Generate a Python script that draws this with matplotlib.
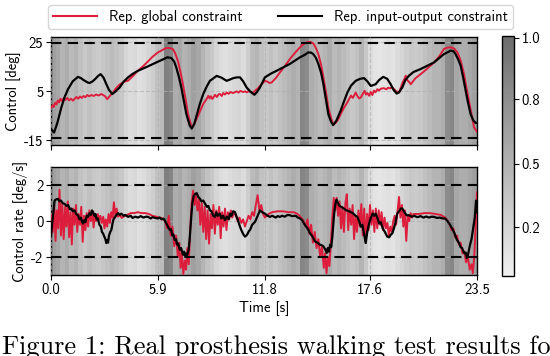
import numpy as np
import matplotlib
matplotlib.use("Agg")
import matplotlib.pyplot as plt
from matplotlib.colors import LinearSegmentedColormap
from matplotlib.lines import Line2D

plt.rcParams['font.family'] = ['cmss10', 'DejaVu Sans']
plt.rcParams['axes.unicode_minus'] = False
plt.rcParams['font.size'] = 10.5

T_END = 23.5

# background shading (0..1), one value every 0.25 s
shade = [0.60, 0.55, 0.45, 0.50, 0.40, 0.45, 0.35, 0.30, 0.35, 0.30, 0.28, 0.32,
         0.35, 0.40, 0.35, 0.30, 0.20, 0.15, 0.18, 0.12, 0.15, 0.20, 0.25, 0.35,
         0.40, 0.85, 0.80, 0.50, 0.55, 0.45, 0.50, 0.60, 0.55, 0.45, 0.35, 0.30,
         0.20, 0.15, 0.12, 0.15, 0.18, 0.20, 0.15, 0.25, 0.40, 0.45, 0.35, 0.30,
         0.35, 0.30, 0.35, 0.40, 0.45, 0.50, 0.45, 0.80, 0.75, 0.50, 0.45, 0.40,
         0.45, 0.50, 0.40, 0.45, 0.40, 0.35, 0.30, 0.35, 0.45, 0.30, 0.15, 0.10,
         0.08, 0.10, 0.12, 0.10, 0.15, 0.20, 0.25, 0.30, 0.28, 0.30, 0.35, 0.40,
         0.45, 0.45, 0.50, 0.75, 0.80, 0.55, 0.50, 0.50, 0.55, 0.60]

# control [deg]
black_top_t = [0, 0.17, 0.35, 0.57, 0.75, 0.94, 1.2, 1.49, 1.65, 1.8, 2.0, 2.13, 2.3,
               2.45, 2.6, 2.74, 2.9, 3.05, 3.2, 3.38, 3.55, 3.79, 4.0, 4.25, 4.5,
               4.8, 5.35, 5.9, 6.2, 6.42, 6.64, 6.8, 6.91, 7.05, 7.19, 7.33, 7.47,
               7.65, 7.76, 7.9, 8.03, 8.2, 8.40, 8.6, 8.77, 9.14, 9.4, 9.69, 9.9,
               10.06, 10.25, 10.43, 10.6, 10.79, 11.0, 11.22, 11.35, 11.53, 11.80,
               12.1, 12.45, 13.18, 13.74, 14.0, 14.2, 14.35, 14.47, 14.62, 14.75,
               14.9, 15.03, 15.17, 15.3, 15.45, 15.57, 15.75, 15.98, 16.15, 16.35,
               16.55, 16.81, 17.05, 17.27, 17.45, 17.64, 17.91, 18.1, 18.33, 18.55,
               18.74, 18.9, 19.07, 19.2, 19.38, 19.55, 19.75, 20.0, 20.39, 21.13,
               21.68, 22.05, 22.2, 22.32, 22.46, 22.6, 22.74, 22.88, 23.0, 23.15,
               23.3, 23.43, 23.5]
black_top_v = [-10.5, -11.9, -8.0, -1.7, 2.5, 5.8, 9.0, 10.8, 10.3, 9.5, 8.6, 8.3, 9.0,
               10.0, 11.2, 11.9, 10.5, 7.9, 5.5, 3.8, 4.8, 6.5, 8.8, 10.6, 12.0,
               13.3, 15.1, 17.0, 18.0, 18.8, 18.5, 17.0, 14.7, 11.0, 6.5, 1.0, -4.4,
               -9.0, -10.3, -8.5, -5.1, -0.5, 3.8, 7.0, 9.2, 11.2, 10.5, 9.2, 9.8,
               10.3, 10.6, 10.6, 9.0, 6.5, 4.8, 3.5, 4.5, 6.5, 10.6,
               12.0, 13.3, 16.1, 18.8, 19.8, 20.8, 20.7, 20.1, 18.5, 16.1,
               12.5, 7.8, 1.5, -4.4, -7.5, -8.9, -7.0, -3.0, 0.5, 4.4,
               7.2, 9.2, 10.0, 10.3, 9.0, 7.1, 7.8, 9.5, 10.8, 10.0,
               7.8, 5.5, 4.0, 4.5, 6.5, 9.5, 11.3, 12.8, 14.0, 16.7,
               20.1, 21.5, 21.3, 20.1, 18.0, 15.4, 10.5, 5.1, 0.5, -4.4,
               -7.0, -8.0, -8.0]

red_top_t = [0, 0.08, 0.15, 0.22, 0.3, 0.38, 0.45, 0.52, 0.6, 0.7, 0.8, 0.9, 1.0,
             1.1, 1.21, 1.3, 1.4, 1.5, 1.6, 1.7, 1.8, 1.9, 2.0, 2.1, 2.23, 2.35,
             2.5, 2.62, 2.78, 2.9, 3.0, 3.1, 3.2, 3.3, 3.42, 3.55, 3.7, 3.85, 4.0,
             4.1, 4.25, 4.5, 4.8, 5.1, 5.35, 5.6, 5.9, 6.15, 6.36, 6.55, 6.73, 6.85,
             7.0, 7.14, 7.28, 7.42, 7.56, 7.74, 7.8, 7.9, 8.03, 8.2, 8.40, 8.5, 8.6,
             8.68, 8.75, 8.82, 8.9, 8.96, 9.05, 9.15, 9.25, 9.32, 9.42, 9.5, 9.6,
             9.69, 9.8, 9.9, 10.05, 10.24, 10.35, 10.45, 10.6, 10.7, 10.8, 10.9, 11.0,
             11.16, 11.3, 11.4, 11.53, 11.65, 11.8, 11.95, 12.05, 12.17, 12.4, 12.63,
             12.9, 13.18, 13.45, 13.74, 13.9, 14.1, 14.3, 14.47, 14.6, 14.75, 14.9,
             15.03, 15.17, 15.3, 15.45, 15.58, 15.7, 15.85, 15.98, 16.15, 16.35,
             16.45, 16.55, 16.65, 16.81, 16.9, 17.0, 17.09, 17.2, 17.3, 17.38, 17.46,
             17.55, 17.64, 17.73, 17.82, 17.9, 18.01, 18.1, 18.2, 18.37, 18.5, 18.6,
             18.7, 18.83, 18.95, 19.05, 19.2, 19.3, 19.4, 19.5, 19.57, 19.65, 19.75,
             19.85, 19.93, 20.1, 20.39, 20.7, 21.13, 21.4, 21.68, 21.85, 22.05, 22.25,
             22.42, 22.6, 22.79, 22.93, 23.06, 23.2, 23.34, 23.5]
red_top_v = [-1.8, -0.8, -1.5, 0.2, -0.5, 1.2, 0.4, 1.9, 1.0, 2.1, 1.4, 2.2, 1.2,
             1.9, 1.1, 1.8, 2.6, 1.9, 2.8, 2.2, 3.0, 2.5, 3.4, 2.9, 3.4, 3.0,
             3.6, 3.2, 3.8, 3.3, 2.8, 1.7, 2.6, 3.5, 4.4, 5.8, 7.1, 8.0, 8.6,
             9.0, 9.2, 11.0, 13.3, 15.3, 17.1, 19.0, 20.8, 21.8, 22.6, 22.6, 22.1, 20.5,
             17.3, 13.0, 7.8, 2.0, -4.4, -9.1, -9.6, -8.5, -6.4, -3.5, -0.2, 0.8, 2.0,
             3.1, 2.0, 2.9, 1.8, 2.4, 3.5, 2.6, 3.7, 3.8, 3.0, 4.2, 3.6,
             4.4, 3.9, 4.6, 4.2, 4.9, 4.4, 5.1, 4.6, 4.9, 4.5, 5.0, 4.6,
             4.4, 5.5, 6.0, 7.1, 8.0, 9.2, 8.8, 8.3, 8.5, 10.3, 12.6,
             15.2, 18.1, 20.5, 22.9, 24.0, 24.9, 25.1, 24.5, 22.8, 20.1, 15.8,
             10.6, 4.5, -1.7, -6.0, -8.5, -8.0, -6.5, -4.4, -2.0, 0.4,
             1.8, 3.2, 2.2, 4.4, 3.0, 2.0, 2.4, 3.8, 5.1, 3.6, 4.2,
             3.1, 4.6, 3.4, 5.2, 4.5, 5.8, 5.2, 6.0, 6.2, 5.7, 6.4,
             6.1, 6.5, 5.6, 4.9, 4.4, 6.5, 8.5, 10.0, 11.3, 9.5, 8.8,
             7.8, 8.6, 10.2, 11.9, 13.8, 16.7, 19.0, 22.2, 22.7, 22.9, 22.3,
             20.8, 17.5, 11.9, 6.0, 1.1, -4.5, -9.8, -11.6]

# control rate [deg/s]
black_bot_t = [0, 0.1, 0.2, 0.3, 0.39, 0.47, 0.55, 0.65, 0.75, 0.85, 0.95, 1.05, 1.12,
               1.2, 1.3, 1.4, 1.49, 1.57, 1.65, 1.72, 1.77, 1.84, 1.9, 1.97, 2.04,
               2.12, 2.2, 2.26, 2.32, 2.4, 2.45, 2.52, 2.59, 2.67, 2.75, 2.81, 2.87,
               2.94, 3.0, 3.05, 3.1, 3.15, 3.2, 3.27, 3.33, 3.4, 3.45, 3.52, 3.6,
               3.7, 3.8, 3.88, 4.0, 4.1, 4.25, 4.4, 4.5, 4.65, 4.8, 4.95, 5.1, 5.25,
               5.35, 5.5, 5.6, 5.75, 5.9, 6.0, 6.1, 6.2, 6.27, 6.35, 6.4, 6.48, 6.55,
               6.62, 6.7, 6.76, 6.82, 6.9, 6.95, 7.02, 7.1, 7.18, 7.28, 7.34, 7.39,
               7.45, 7.5, 7.56, 7.6, 7.65, 7.7, 7.75, 7.8, 7.87, 7.95, 8.04, 8.12,
               8.22, 8.3, 8.4, 8.5, 8.6, 8.68, 8.77, 8.85, 8.95, 9.05, 9.12, 9.2,
               9.32, 9.4, 9.5, 9.6, 9.7, 9.8, 9.88, 9.95, 10.05, 10.15, 10.22, 10.3,
               10.36, 10.43, 10.5, 10.55, 10.62, 10.7, 10.78, 10.85, 10.92, 10.98,
               11.1, 11.26, 11.4, 11.53, 11.65, 11.8, 11.95, 12.08, 12.2, 12.4, 12.5,
               12.63, 12.75, 12.9, 13.05, 13.18, 13.3, 13.5, 13.62, 13.74, 13.85,
               14.01, 14.15, 14.29, 14.42, 14.57, 14.7, 14.84, 14.95, 15.03, 15.12,
               15.21, 15.27, 15.33, 15.4, 15.46, 15.52, 15.57, 15.62, 15.68, 15.75,
               15.82, 15.89, 16.0, 16.16, 16.3, 16.45, 16.53, 16.65, 16.8, 16.9,
               17.0, 17.1, 17.18, 17.27, 17.36, 17.45, 17.55, 17.65, 17.75, 17.83,
               17.91, 18.0, 18.1, 18.19, 18.3, 18.42, 18.55, 18.65, 18.75, 18.83,
               18.92, 19.0, 19.1, 19.2, 19.3, 19.38, 19.5, 19.62, 19.75, 19.9, 20.05,
               20.2, 20.39, 20.55, 20.7, 20.85, 21.0, 21.13, 21.3, 21.45, 21.6,
               21.74, 21.88, 22.02, 22.15, 22.27, 22.39, 22.5, 22.6, 22.68, 22.75,
               22.82, 22.88, 22.94, 23.0, 23.06, 23.12, 23.2, 23.3, 23.38, 23.45, 23.5]
black_bot_v = [-0.85, 0.2, 1.15, 1.22, 1.24, 1.1, 1.15, 1.0, 0.97, 0.85, 0.9, 0.65, 0.7,
               0.55, 0.6, 0.38, 0.33, 0.1, 0.2, -0.05, -0.13, 0.05, -0.05, 0.3, 0.24,
               0.45, 0.35, 0.6, 0.51, 0.3, 0.4, 0.1, 0.15, -0.2, -0.3, -0.6, -0.68,
               -0.85, -1.0, -1.22, -1.05, -1.2, -0.8, -0.6, -0.49, -0.1, 0.1, 0.2, 0.33,
               0.45, 0.35, 0.42, 0.3, 0.35, 0.24, 0.3, 0.18, 0.25, 0.2, 0.28, 0.2, 0.25,
               0.24, 0.15, 0.22, 0.18, 0.15, 0.2, 0.1, 0.14, 0.06, -0.1, -0.2, -0.35, -0.49,
               -0.45, -0.8, -0.75, -1.04, -1.0, -1.3, -1.25, -1.59, -1.5, -1.87, -1.7, -1.92,
               -1.8, -1.9, -1.75, -1.55, -1.0, -0.3, 0.4, 1.0, 1.4, 1.52, 1.56, 1.35,
               1.25, 1.1, 1.15, 0.97, 0.8, 0.85, 0.6, 0.55, 0.3, 0.24, 0.5, 0.3,
               0.42, 0.15, 0.3, 0.06, 0.25, 0.1, 0.42, 0.3, 0.55, 0.51, 0.3, 0.1,
               -0.1, -0.31, -0.5, -0.6, -0.75, -0.86, -0.8, -0.7, -0.55, -0.49,
               -0.2, -0.03, 0.3, 0.6, 0.5, 0.42, 0.3, 0.24, 0.3, 0.2, 0.28,
               0.24, 0.3, 0.25, 0.35, 0.33, 0.28, 0.3, 0.2, 0.15, 0.05,
               -0.21, -0.4, -0.68, -0.85, -1.13, -1.2, -1.31, -1.35, -1.41, -1.55,
               -1.77, -1.5, -1.7, -1.31, -1.45, -0.9, -0.2, 0.42, 0.9, 1.2,
               1.05, 0.88, 0.8, 0.7, 0.6, 0.55, 0.51, 0.45, 0.3, 0.24,
               0.0, -0.31, -0.2, -0.7, -1.22, -0.6, -0.13, 0.2, 0.42, 0.3,
               0.42, 0.2, -0.13, -0.05, -0.4, -0.6, -0.86, -0.9, -0.75, -0.68,
               -0.4, -0.1, 0.42, 0.55, 0.7, 0.7, 0.5, 0.33, 0.33, 0.25, 0.3,
               0.22, 0.28, 0.2, 0.26, 0.2, 0.25, 0.24, 0.18, 0.2, 0.15,
               0.15, 0.0, -0.21, -0.45, -0.7, -1.04, -1.2, -1.45, -1.5, -1.68,
               -1.8, -1.75, -2.05, -1.9, -1.6, -1.31, -1.0, -0.31, 0.2, 1.15, 0.5]

red_bot_t = [0.0, 0.1, 0.18, 0.25, 0.32, 0.4, 0.47, 0.55, 0.62, 0.7, 0.78, 0.85, 0.93,
             1.0, 1.08, 1.15, 1.22, 1.3, 1.38, 1.45, 1.52, 1.6, 1.67, 1.75, 1.82, 1.9,
             1.97, 2.05, 2.12, 2.2, 2.28, 2.35, 2.42, 2.5, 2.58, 2.65, 2.72, 2.8, 2.88,
             2.95, 3.02, 3.1, 3.18, 3.25, 3.32, 3.4, 3.47, 3.55, 3.62, 3.7, 3.8, 3.9,
             4.0, 4.2, 4.4, 4.6, 4.8, 5.0, 5.2, 5.4, 5.6, 5.8, 6.0, 6.15, 6.3, 6.4,
             6.5, 6.6, 6.7, 6.8, 6.9, 7.0, 7.08, 7.15, 7.22, 7.3, 7.38, 7.45, 7.52,
             7.6, 7.68, 7.76, 7.84, 7.92, 8.0, 8.08, 8.16, 8.24, 8.32, 8.4, 8.48, 8.56,
             8.64, 8.72, 8.8, 8.88, 8.96, 9.04, 9.12, 9.2, 9.28, 9.36, 9.44, 9.52, 9.6,
             9.68, 9.76, 9.84, 9.92, 10.0, 10.1, 10.2, 10.3, 10.4, 10.5, 10.6, 10.7,
             10.8, 10.9, 11.0, 11.1, 11.2, 11.3, 11.4, 11.5, 11.6, 11.7, 11.8, 11.9,
             12.0, 12.2, 12.5, 12.8, 13.1, 13.4, 13.6, 13.8, 13.95, 14.05, 14.15,
             14.25, 14.35, 14.45, 14.55, 14.65, 14.75, 14.85, 14.95, 15.05, 15.12,
             15.2, 15.28, 15.36, 15.44, 15.52, 15.6, 15.68, 15.76, 15.84, 15.92, 16.0,
             16.08, 16.16, 16.24, 16.32, 16.4, 16.48, 16.56, 16.64, 16.72, 16.8, 16.88,
             16.96, 17.04, 17.12, 17.2, 17.28, 17.36, 17.44, 17.52, 17.6, 17.68, 17.76,
             17.84, 17.92, 18.0, 18.08, 18.16, 18.24, 18.32, 18.4, 18.48, 18.56, 18.64,
             18.72, 18.8, 18.88, 18.96, 19.04, 19.12, 19.2, 19.28, 19.36, 19.44, 19.52,
             19.6, 19.68, 19.76, 19.84, 19.92, 20.0, 20.3, 20.6, 20.9, 21.2, 21.5,
             21.75, 21.9, 22.0, 22.1, 22.2, 22.3, 22.4, 22.5, 22.6, 22.7, 22.8, 22.9,
             23.0, 23.1, 23.2, 23.27, 23.35, 23.42, 23.5]
red_bot_v = [0.35, -0.6, 0.9, -1.1, 0.6, -0.4, 1.75, -0.8, 1.0, -1.0, 0.8, -0.3, 1.1,
             -0.9, 0.5, -1.3, 0.7, -0.2, 0.9, -0.6, 0.4, -0.2, 0.8, -1.15, 0.3, -0.5,
             0.45, -0.3, 0.6, 0.0, 0.55, -0.35, 0.3, 0.0, 0.4, 0.1, 0.3, -0.1, 0.25,
             -0.4, 0.1, -0.3, 0.4, -0.1, 0.5, 0.2, 1.05, 0.3, 0.7, 0.25, 0.35, 0.18,
             0.25, 0.35, 0.45, 0.45, 0.5, 0.45, 0.45, 0.4, 0.3, 0.25, 0.2, 0.15, 0.0, -0.4,
             0.3, -0.8, -0.3, -1.4, -0.8, -2.0, -1.2, -2.6, -1.8, -2.95, -2.2, -2.7, -1.5,
             -2.4, -0.5, 1.0, 1.7, 0.9, 1.4, 0.6, 1.2, -0.2, 1.0, -0.6, 0.8, -1.0,
             0.6, -1.25, 0.4, -0.4, 0.9, -0.7, 0.6, -0.2, 0.8, -0.95, 0.5, -0.3, 0.7,
             -0.5, 0.5, 0.1, 0.6, 0.2, 0.5, 0.3, 0.0, 0.2, -0.1, 0.1, -0.3,
             0.0, 0.3, 0.1, 0.5, 0.3, 0.9, 1.45, 0.6, 0.9, 0.4, 0.2, 0.3,
             0.4, 0.5, 0.55, 0.55, 0.5, 0.5, 0.4, 0.2, 0.0, -0.3, 0.1,
             -0.7, -0.2, -1.2, -0.6, -1.5, -1.0, -2.0, -1.4, -2.6, -1.8,
             -2.9, -2.0, -2.5, -1.2, 0.2, 1.3, 0.6, 1.3, 0.3, 1.1, -0.4,
             0.8, -0.6, 1.0, 1.5, -0.5, 0.7, -0.2, 0.9, -1.0, 0.3, -0.6,
             0.6, -0.3, 0.95, -0.8, 0.7, -1.1, 0.4, -0.5, 0.9, -0.2, 0.6,
             -0.6, 0.7, -0.4, 0.6, -0.2, 0.5, -0.5, 0.2, -0.4, -0.1, -0.8,
             -0.3, -0.6, 0.0, 0.3, -0.2, 0.6, 1.35, 0.2, 0.9, -0.3, 0.6,
             -1.1, 0.3, 0.0, 0.45, 0.2, 0.4, 0.4, 0.45, 0.45, 0.4, 0.35,
             0.2, 0.0, -0.2, -0.5, -0.4, -0.9, -0.8, -1.3, -1.2, -1.8, -1.7, -2.3,
             -2.0, -2.7, -2.4, -2.9, -2.0, -0.5, 1.6]

x_ticks = [0.0, 5.9, 11.8, 17.6, 23.5]
x_ticklabels = ['0.0', '5.9', '11.8', '17.6', '23.5']
top_ticks = [-15, 5, 25]
bot_ticks = [-2, 0, 2]
top_bounds = [-14.0, 24.5]
bot_bounds = [-2.0, 2.0]
cbar_ticks = [0.204, 0.467, 0.737, 0.992]
cbar_ticklabels = ['0.2', '0.5', '0.8', '1.0']

red = '#dc1e3c'
cmap = LinearSegmentedColormap.from_list('shade', ['#f0f0f0', '#6c6c6c'])

fig = plt.figure(figsize=(5.5, 3.56), dpi=100)
ax1 = fig.add_axes([0.0927, 0.5927, 0.7745, 0.3042])
ax2 = fig.add_axes([0.0927, 0.2275, 0.7745, 0.3025])
cax = fig.add_axes([0.9127, 0.2247, 0.0218, 0.674])

panels = [
    (ax1, (-17.0, 27.2), black_top_t, black_top_v, red_top_t, red_top_v, top_bounds,
     top_ticks, 'Control [deg]'),
    (ax2, (-3.0, 3.0), black_bot_t, black_bot_v, red_bot_t, red_bot_v, bot_bounds,
     bot_ticks, 'Control rate [deg/s]'),
]
for ax, ylim, bt, bv, rt, rv, bounds, yt, ylab in panels:
    im = ax.imshow(np.array(shade)[None, :], cmap=cmap, vmin=0, vmax=1, aspect='auto',
                   interpolation='nearest', extent=[0, T_END, ylim[0], ylim[1]], zorder=0)
    ax.grid(True, color='#b0b0b0', linestyle='--', linewidth=0.8, alpha=0.7)
    ax.set_axisbelow(False)
    ax.plot(rt, rv, color=red, lw=1.4, zorder=3)
    ax.plot(bt, bv, color='black', lw=1.6, zorder=4)
    for b in bounds:
        ax.axhline(b, color='black', ls=(0, (5, 3)), lw=1.5, zorder=5)
    ax.set_xlim(0, T_END)
    ax.set_ylim(*ylim)
    ax.set_yticks(yt)
    ax.set_yticklabels([str(v) for v in yt])
    ax.set_xticks(x_ticks)
    ax.set_ylabel(ylab, labelpad=2)
    ax.tick_params(direction='out', length=3.5, pad=2)
    for sp in ax.spines.values():
        sp.set_linewidth(1.0)

ax1.set_xticklabels([])
ax2.set_xticklabels(x_ticklabels)
ax2.set_xlabel('Time [s]', labelpad=3)

cb = fig.colorbar(im, cax=cax)
cb.set_ticks(cbar_ticks)
cb.set_ticklabels(cbar_ticklabels)
cb.outline.set_linewidth(1.0)
cax.tick_params(length=3.5, pad=2)

handles = [Line2D([], [], color=red, lw=1.5), Line2D([], [], color='black', lw=1.5)]
fig.legend(handles, ['Rep. global constraint', 'Rep. input-output constraint'],
           loc='lower left', bbox_to_anchor=(0.0873, 1 - 29 / 356, 0.845, 26 / 356),
           mode='expand', ncol=2, borderaxespad=0, frameon=True, fancybox=True,
           handlelength=3.0, fontsize=10.5, borderpad=0.35)

# paper caption, cut off by the lower and right edges of the image as in the source
fig.text(0.004, 1 - 354 / 356, 'Figure 1: Real prosthesis walking test results for',
         family=['cmr10', 'DejaVu Serif'], fontsize=19, va='baseline', ha='left')

fig.savefig('out.png', dpi=100)
